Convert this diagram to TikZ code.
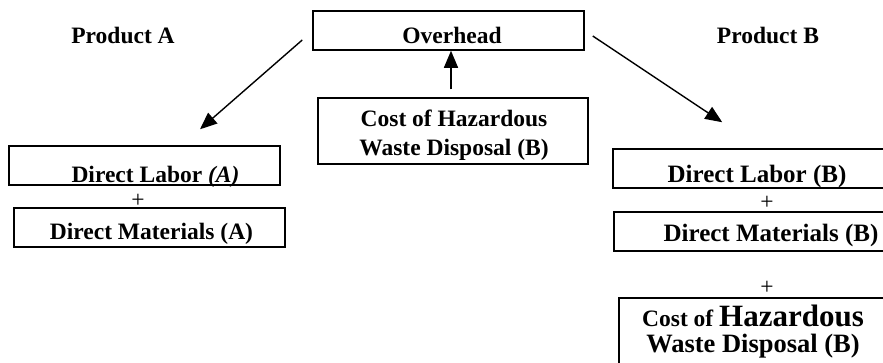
\documentclass[tikz,border=0pt]{standalone}
\usepackage{fontspec}
\setmainfont{Liberation Serif}
\usetikzlibrary{arrows.meta,calc}

\begin{document}
\begin{tikzpicture}[x=1pt,y=-1pt,
                    cbox/.style={draw,line width=1.5pt,inner sep=0pt},
                    ctext/.style={font=\bfseries\fontsize{23.5}{29}\selectfont,anchor=base,inner sep=0pt},
                    btext/.style={font=\bfseries\fontsize{25}{29}\selectfont,anchor=base,inner sep=0pt},
                    plustext/.style={font=\fontsize{23.5}{24}\selectfont,inner sep=0pt},
                    flow/.style={line width=1.4pt,-{Triangle[length=17pt,width=14pt]}}]

\clip (0,0) rectangle (883,362);

% boxes
\node[cbox,minimum width=271pt,minimum height=39pt] (ovh) at (448.5,30.5) {};
\node[cbox,minimum width=270pt,minimum height=66pt] (costM) at (453,131) {};
\node[cbox,minimum width=271pt,minimum height=39pt] (labA) at (144.5,165.5) {};
\node[cbox,minimum width=271pt,minimum height=39pt] (matA) at (149.5,227.5) {};
\node[cbox,minimum width=290pt,minimum height=39pt] (labB) at (758,168.5) {};
\node[cbox,minimum width=290pt,minimum height=39pt] (matB) at (759,231.5) {};
\node[cbox,minimum width=290pt,minimum height=82pt] (costB) at (764,339) {};

% texts
\node[ctext] (prodA) at (123,43) {Product A};
\node[ctext] (prodB) at (768,43) {Product B};
\node[ctext] (ovhT) at (452,43) {Overhead};
\node[ctext,align=center] (costMT) at (454,155) {Cost of Hazardous\\Waste Disposal (B)};
\node[ctext] (labAT) at (155.5,182) {Direct Labor \textit{(A)}};
\node[plustext] (plusA) at (138,201) {+};
\node[ctext] (matAT) at (151.5,239) {Direct Materials (A)};
\node[btext] (labBT) at (757,182) {Direct Labor (B)};
\node[plustext] (plusB) at (767,203) {+};
\node[btext] (matBT) at (771,241) {Direct Materials (B)};
\node[plustext] (plusC) at (767,288) {+};
\node[ctext,align=center] (costBT) at (753,352) {Cost of {\fontsize{31}{31}\selectfont Hazardous}\\[-3pt]{\fontsize{26.5}{29}\selectfont Waste Disposal (B)}};

% arrows
\draw[flow] ($(ovh.west)+(-10,9.5)$) -- ($(labA.north)+(55.5,-16)$);
\draw[flow] ($(ovh.east)+(8,5.5)$) -- ($(labB.north west)+(110,-26)$);
\draw[flow] ($(costM.north)+(-2,-8)$) -- ($(ovh.south)+(2.5,0)$);

\end{tikzpicture}
\end{document}
